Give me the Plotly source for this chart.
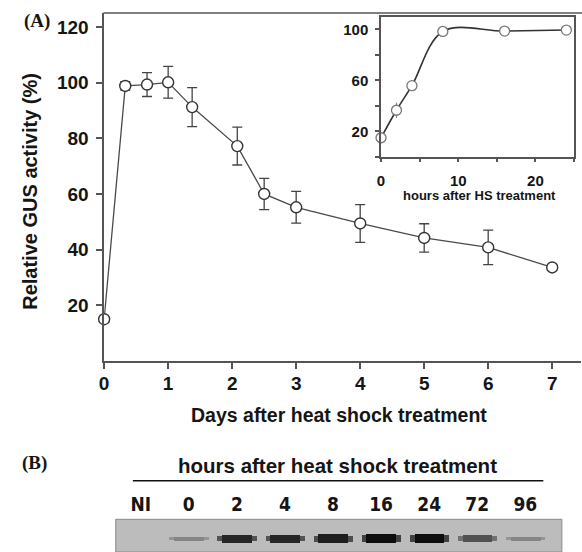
import plotly.graph_objects as go

# ---- data ----
days = [0, 0.33, 0.67, 1.0, 1.375, 2.08, 2.5, 3, 4, 5, 6, 7]
gus_days = [15.0, 98.8, 99.3, 100.1, 91.2, 77.2, 60.0, 55.2, 49.4, 44.2, 40.8, 33.6]
gus_days_err = [0, 1.5, 4.3, 5.7, 7.0, 6.8, 5.6, 5.7, 6.8, 5.1, 6.2, 0]

hours = [0, 2, 4, 8, 16, 24]
gus_hours = [14.9, 36.5, 55.8, 98.4, 98.7, 99.5]
gus_hours_err = [0, 6, 2, 1.5, 3, 4]

main_xticks = [0, 1, 2, 3, 4, 5, 6, 7]
main_yticks = [20, 40, 60, 80, 100, 120]
inset_xticks = [0, 5, 10, 15, 20, 25]
inset_xlabels = ["0", "", "10", "", "20", ""]
inset_yticks = [0, 20, 40, 60, 80, 100]
inset_ylabels = ["", "20", "", "60", "", "100"]

lanes = ["NI", "0", "2", "4", "8", "16", "24", "72", "96"]
band_intensity = [0.0, 0.3, 0.85, 0.85, 0.9, 1.0, 1.0, 0.6, 0.3]

# ---- helpers ----
W, H = 582, 552
def px(x):
    return x / W
def py(y):
    return 1 - y / H

SANS = "Liberation Sans, Arial, sans-serif"
NARROW = "'Liberation Sans Narrow', 'DejaVu Sans Condensed', 'Arial Narrow', sans-serif"
SERIF = "Liberation Serif, Times New Roman, serif"
INK = "#151515"
LINE = "#4a4a4a"

fig = go.Figure()

# main curve
fig.add_trace(go.Scatter(
    x=days, y=gus_days, mode="lines+markers",
    line=dict(color=LINE, width=1.3),
    marker=dict(symbol="circle", size=11, color="white",
                line=dict(color="#333", width=1.4)),
    error_y=dict(type="data", array=gus_days_err, visible=True,
                 color="#444", thickness=1.3, width=5),
    cliponaxis=False, xaxis="x", yaxis="y", showlegend=False))

# inset curve
fig.add_trace(go.Scatter(
    x=hours, y=gus_hours, mode="lines+markers",
    line=dict(color="#333", width=1.6, shape="spline", smoothing=1.0),
    marker=dict(symbol="circle", size=10, color="white",
                line=dict(color="#777", width=1.3)),
    error_y=dict(type="data", array=gus_hours_err, visible=True,
                 color="#888", thickness=1.2, width=0),
    cliponaxis=False, xaxis="x2", yaxis="y2", showlegend=False))

# western blot bands: soft outer smear + dark core
band_center = 0.40
lane_pos = list(range(len(lanes)))
thick = [0.06 + 0.22 * b if b > 0 else 0 for b in band_intensity]
outer_col, core_col = [], []
for b in band_intensity:
    g = int(185 - 120 * b)
    outer_col.append(f"rgb({g},{g},{g})")
    g = int(185 - 172 * b)
    core_col.append(f"rgb({g},{g},{g})")
outer_t = [t * 0.7 for t in thick]
fig.add_trace(go.Bar(
    x=lane_pos, y=outer_t, base=[band_center - t / 2 for t in outer_t],
    width=0.82, marker=dict(color=outer_col, line=dict(width=0)),
    xaxis="x3", yaxis="y3", showlegend=False, hoverinfo="skip", offsetgroup="a"))
fig.add_trace(go.Bar(
    x=lane_pos, y=thick, base=[band_center - t / 2 for t in thick],
    width=0.62, marker=dict(color=core_col, line=dict(width=0)),
    xaxis="x3", yaxis="y3", showlegend=False, hoverinfo="skip", offsetgroup="a"))

tickfont = dict(family=SANS, size=19, color=INK, weight="bold")
axis_common = dict(showgrid=False, zeroline=False, showline=True,
                   linecolor="#555", linewidth=1.5, ticks="outside",
                   tickcolor="#555", tickwidth=1.5, showspikes=False)

fig.update_layout(
    width=W, height=H, margin=dict(l=0, r=0, t=0, b=0),
    paper_bgcolor="white", plot_bgcolor="white",
    barmode="overlay", bargap=0, hovermode=False,
    xaxis=dict(domain=[px(100), px(581)], range=[0, 7.45], tickvals=main_xticks,
               ticklen=6, mirror=False, tickfont=tickfont, ticklabelstandoff=-2,
               anchor="y", **axis_common),
    yaxis=dict(domain=[py(361), py(13)], range=[0, 125], tickvals=main_yticks,
               ticklen=6, tickfont=tickfont, ticklabelstandoff=4, mirror=False,
               anchor="x", **axis_common),
    xaxis2=dict(domain=[px(379.3), px(574)], range=[0, 25], tickvals=inset_xticks,
                ticktext=inset_xlabels, ticklen=4, mirror=True,
                tickfont=dict(family=SANS, size=15, color=INK, weight="bold"),
                ticklabelstandoff=6, anchor="y2", **axis_common),
    yaxis2=dict(domain=[py(156.7), py(16.7)], range=[0, 110], tickvals=inset_yticks,
                ticktext=inset_ylabels, ticklen=4, mirror=True,
                tickfont=dict(family=SANS, size=15, color=INK, weight="bold"),
                ticklabelstandoff=4, anchor="x2", **axis_common),
    xaxis3=dict(domain=[px(111.7), px(561.7)], range=[-0.52, 8.76],
                tickvals=lane_pos, ticktext=lanes, side="top",
                ticks="", showline=False, showgrid=False, zeroline=False,
                tickfont=dict(family=NARROW, size=19, color=INK, weight="bold"),
                ticklabelstandoff=4, anchor="y3"),
    yaxis3=dict(domain=[0, py(519.3)], range=[0, 1], visible=False, anchor="x3"),
)

# top frame line of panel A (extends to the edge)
fig.add_shape(type="line", xref="paper", yref="paper", x0=px(99.3), x1=1,
              y0=py(13), y1=py(13), line=dict(color="#555", width=1.5))
# gel background
fig.add_shape(type="rect", xref="x3 domain", yref="y3 domain", x0=0, x1=1, y0=0, y1=1,
              fillcolor="rgb(188,188,188)", line=dict(color="#8a8a8a", width=1),
              layer="below")
# line under blot header
fig.add_shape(type="line", xref="paper", yref="paper", x0=px(129), x1=px(543),
              y0=py(480.7), y1=py(480.7), line=dict(color="#111", width=1.6))

ann = [
    dict(text="(A)", x=px(32), y=py(21), font=dict(family=SERIF, size=19, color=INK, weight="bold")),
    dict(text="(B)", x=px(30), y=py(463), font=dict(family=SERIF, size=19, color=INK, weight="bold")),
    dict(text="Relative GUS activity (%)", x=px(25), y=py(191), textangle=-90,
         font=dict(family=SANS, size=20, color=INK, weight="bold")),
    dict(text="Days after heat shock treatment", x=px(337), y=py(415),
         font=dict(family=SANS, size=19.5, color=INK, weight="bold")),
    dict(text="hours after HS treatment", x=px(479), y=py(195),
         font=dict(family=SANS, size=13, color=INK, weight="bold")),
    dict(text="hours after heat shock treatment", x=px(335), y=py(465),
         font=dict(family=SANS, size=20.5, color=INK, weight="bold")),
]
for a in ann:
    fig.add_annotation(xref="paper", yref="paper", showarrow=False,
                       xanchor="center", yanchor="middle", **a)

fig.write_html("out.html", config={"displayModeBar": False},
               post_script="document.body.style.margin='0';document.body.style.overflow='hidden';")
